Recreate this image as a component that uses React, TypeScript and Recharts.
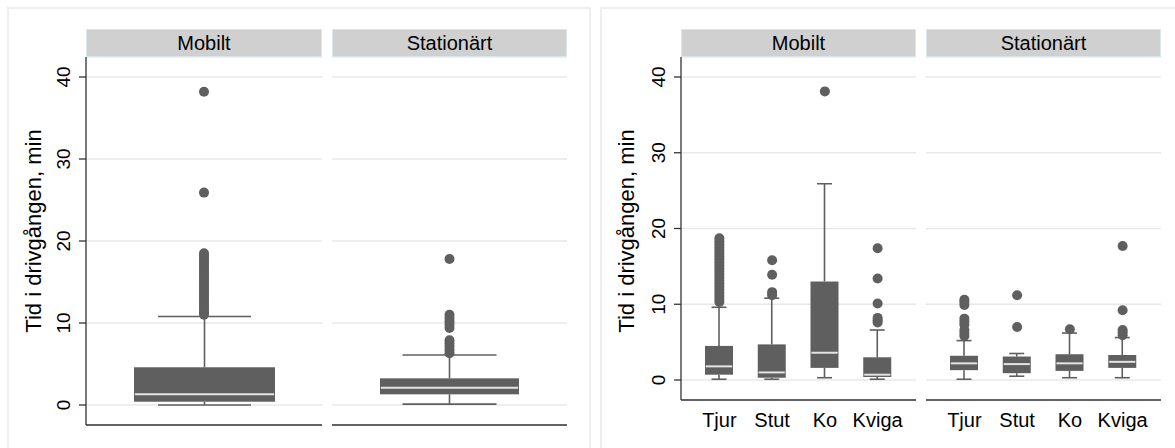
import React from 'react';
import { ComposedChart, Bar, Line, XAxis, YAxis, CartesianGrid } from 'recharts';

const groupLabels = ['Mobilt', 'Stationärt'];
const animalCats = ['Tjur', 'Stut', 'Ko', 'Kviga'];
const yTicks = [0, 10, 20, 30, 40];
const yTitle = 'Tid i drivgången, min';

// left graph: all animals pooled, one box per group
const pooledMin = [0.0, 0.1];
const pooledQ1 = [0.4, 1.3];
const pooledMedian = [1.3, 2.1];
const pooledQ3 = [4.6, 3.25];
const pooledMax = [10.8, 6.1];
const pooledOutliers = [
  [11.0, 11.3, 11.6, 11.9, 12.2, 12.5, 12.8, 13.1, 13.4, 13.7, 14.0, 14.3, 14.6, 14.9, 15.2, 15.5,
    15.8, 16.1, 16.4, 16.7, 17.0, 17.3, 17.6, 17.9, 18.2, 18.5, 25.9, 38.2],
  [6.3, 6.7, 7.1, 7.5, 7.9, 9.4, 9.8, 10.2, 10.6, 11.0, 17.8],
];

// right graph: per animal category
const mobiltMin = [0.1, 0.1, 0.3, 0.1];
const mobiltQ1 = [0.7, 0.3, 1.6, 0.4];
const mobiltMedian = [1.8, 1.0, 3.6, 0.7];
const mobiltQ3 = [4.5, 4.7, 13.0, 3.0];
const mobiltMax = [9.6, 10.8, 25.9, 6.6];
const mobiltOutliers = [
  [10.3, 10.7, 11.1, 11.5, 11.9, 12.3, 12.7, 13.1, 13.5, 13.9, 14.3, 14.7, 15.1, 15.5, 15.9, 16.3,
    16.7, 17.1, 17.5, 17.9, 18.3, 18.7],
  [11.2, 11.6, 13.9, 15.8],
  [38.1],
  [7.6, 7.9, 8.2, 10.1, 13.4, 17.4],
];

const statMin = [0.1, 0.5, 0.3, 0.3];
const statQ1 = [1.3, 0.9, 1.2, 1.6];
const statMedian = [2.2, 2.1, 2.2, 2.4];
const statQ3 = [3.2, 3.1, 3.4, 3.3];
const statMax = [5.2, 3.5, 6.2, 5.6];
const statOutliers = [
  [5.8, 6.2, 6.6, 7.3, 7.7, 8.1, 9.9, 10.3, 10.6],
  [7.0, 11.2],
  [6.7],
  [5.9, 6.3, 6.6, 9.2, 17.7],
];

const BOX = '#5f5f5f';
const MEDIAN = '#e4e4e4';
const FONT = '"Liberation Sans", Arial, sans-serif';

type Row = { name: string; base: number; lowW: number; boxLo: number; boxHi: number; highW: number; out: number[] };

function buildRows(names: string[], min: number[], q1: number[], med: number[], q3: number[], max: number[], out: number[][]): Row[] {
  return names.map((name, i) => ({
    name,
    base: min[i],
    lowW: q1[i] - min[i],
    boxLo: med[i] - q1[i],
    boxHi: q3[i] - med[i],
    highW: max[i] - q3[i],
    out: out[i],
  }));
}

const pooledRows = buildRows(groupLabels, pooledMin, pooledQ1, pooledMedian, pooledQ3, pooledMax, pooledOutliers);
const mobiltRows = buildRows(animalCats, mobiltMin, mobiltQ1, mobiltMedian, mobiltQ3, mobiltMax, mobiltOutliers);
const statRows = buildRows(animalCats, statMin, statQ1, statMedian, statQ3, statMax, statOutliers);

const whisker = (cap: number, atTop: boolean) => (p: any) => {
  const cx = p.x + p.width / 2;
  const yc = atTop ? p.y : p.y + p.height;
  return (
    <g>
      <line x1={cx} x2={cx} y1={p.y} y2={p.y + p.height} stroke={BOX} strokeWidth={1.6} />
      <line x1={cx - cap / 2} x2={cx + cap / 2} y1={yc} y2={yc} stroke={BOX} strokeWidth={1.6} />
    </g>
  );
};

const boxPart = (withMedian: boolean) => (p: any) => (
  <g>
    <rect x={p.x} y={p.y} width={p.width} height={Math.max(p.height, 0)} fill={BOX} />
    {withMedian && (
      <line x1={p.x + 1} x2={p.x + p.width - 1} y1={p.y + p.height} y2={p.y + p.height} stroke={MEDIAN} strokeWidth={2} />
    )}
  </g>
);

const RotTick = (p: any) => (
  <text
    x={p.x - 6}
    y={p.y}
    transform={`rotate(-90 ${p.x - 6} ${p.y})`}
    textAnchor="middle"
    fontSize={19}
    fontFamily={FONT}
    fill="#000"
  >
    {p.payload.value}
  </text>
);

interface FacetProps {
  rows: Row[];
  domain: [number, number];
  withY: boolean;
  withXTicks: boolean;
  width: number;
  height: number;
  yWidth: number;
  xHeight: number;
  barSize: number;
  cap: number;
  pad: number;
}

function Facet({ rows, domain, withY, withXTicks, width, height, yWidth, xHeight, barSize, cap, pad }: FacetProps) {
  const maxOut = Math.max(...rows.map((r) => r.out.length));
  return (
    <ComposedChart width={width} height={height} data={rows} margin={{ top: 0, right: 0, bottom: 0, left: 0 }}>
      <CartesianGrid horizontal vertical={false} stroke="#e8e8e8" strokeWidth={1.5} />
      <XAxis
        dataKey="name"
        type="category"
        height={xHeight}
        padding={{ left: pad, right: pad }}
        tickLine={false}
        tick={withXTicks ? { fontSize: 20, fill: '#000', fontFamily: FONT } : false}
        tickMargin={7}
        axisLine={{ stroke: '#333', strokeWidth: 1.5 }}
      />
      <YAxis
        type="number"
        domain={domain}
        allowDataOverflow
        ticks={yTicks}
        hide={!withY}
        width={yWidth}
        tick={<RotTick />}
        tickSize={7}
        tickMargin={3}
        tickLine={{ stroke: '#333', strokeWidth: 1.3 }}
        axisLine={{ stroke: '#333', strokeWidth: 1.3 }}
      />
      <Bar dataKey="base" stackId="b" barSize={barSize} fill="none" shape={() => <g />} isAnimationActive={false} />
      <Bar dataKey="lowW" stackId="b" barSize={barSize} shape={whisker(cap, false)} isAnimationActive={false} />
      <Bar dataKey="boxLo" stackId="b" barSize={barSize} shape={boxPart(false)} isAnimationActive={false} />
      <Bar dataKey="boxHi" stackId="b" barSize={barSize} shape={boxPart(true)} isAnimationActive={false} />
      <Bar dataKey="highW" stackId="b" barSize={barSize} shape={whisker(cap, true)} isAnimationActive={false} />
      {Array.from({ length: maxOut }, (_, k) => (
        <Line
          key={k}
          dataKey={(d: Row) => d.out[k]}
          stroke="none"
          dot={{ r: 5, fill: BOX, stroke: 'none' }}
          activeDot={false}
          isAnimationActive={false}
        />
      ))}
    </ComposedChart>
  );
}

const abs = (left: number, top: number): React.CSSProperties => ({ position: 'absolute', left, top });

function Header({ left, width, label }: { left: number; width: number; label: string }) {
  return (
    <div
      style={{
        ...abs(left, 29),
        width: width - 2,
        height: 26,
        lineHeight: '26px',
        background: '#d0d0d0',
        border: '1px solid #dbe6ea',
        textAlign: 'center',
        fontSize: 20,
        fontFamily: FONT,
        color: '#000',
      }}
    >
      {label}
    </div>
  );
}

function YTitle({ cx }: { cx: number }) {
  return (
    <div
      style={{
        ...abs(cx - 160, 231 - 14),
        width: 320,
        height: 28,
        lineHeight: '28px',
        textAlign: 'center',
        fontSize: 22,
        fontFamily: FONT,
        color: '#000',
        transform: 'rotate(-90deg)',
      }}
    >
      {yTitle}
    </div>
  );
}

export default function App() {
  const leftDomain: [number, number] = [-2.44, 42.44];
  const rightDomain: [number, number] = [-2.64, 42.64];
  return (
    <div style={{ position: 'absolute', left: 0, top: 0, width: 1175, height: 448, background: '#fff', overflow: 'hidden' }}>
      <div style={{ ...abs(7, 7), width: 580, height: 460, border: '2px solid #eeeeee' }} />
      <div style={{ ...abs(600, 7), width: 600, height: 460, border: '2px solid #eeeeee' }} />

      {/* left graph */}
      <Header left={86} width={236} label={groupLabels[0]} />
      <Header left={332} width={235} label={groupLabels[1]} />
      <YTitle cx={34} />
      <div style={abs(7, 57)}>
        <Facet rows={[pooledRows[0]]} domain={leftDomain} withY withXTicks={false} width={315} height={370}
          yWidth={79} xHeight={2} barSize={141} cap={93} pad={0} />
      </div>
      <div style={abs(332, 57)}>
        <Facet rows={[pooledRows[1]]} domain={leftDomain} withY={false} withXTicks={false} width={235} height={370}
          yWidth={0} xHeight={2} barSize={139} cap={94} pad={0} />
      </div>

      {/* right graph */}
      <Header left={681} width={235} label={groupLabels[0]} />
      <Header left={926} width={235} label={groupLabels[1]} />
      <YTitle cx={627} />
      <div style={abs(601, 57)}>
        <Facet rows={mobiltRows} domain={rightDomain} withY withXTicks width={315} height={383}
          yWidth={80} xHeight={40} barSize={28} cap={15} pad={12} />
      </div>
      <div style={abs(926, 57)}>
        <Facet rows={statRows} domain={rightDomain} withY={false} withXTicks width={235} height={383}
          yWidth={0} xHeight={40} barSize={28} cap={15} pad={12} />
      </div>
    </div>
  );
}
